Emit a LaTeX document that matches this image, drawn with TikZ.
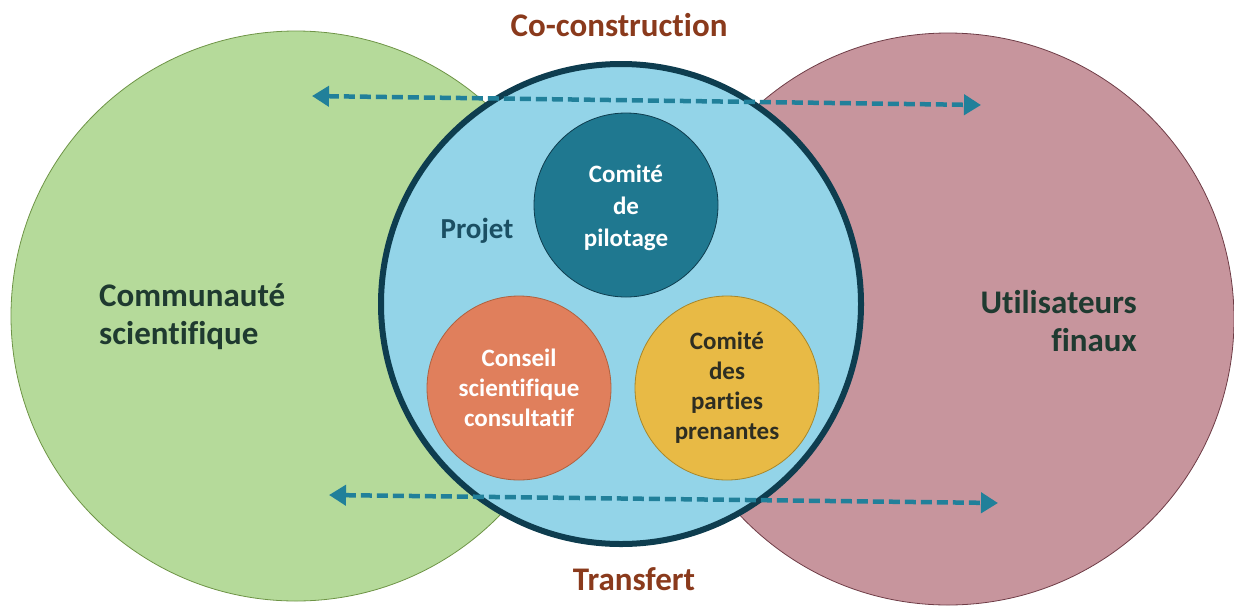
\documentclass[tikz,border=0pt]{standalone}
\usepackage{fontspec}
\setmainfont[RawFeature=-liga]{Carlito}
\usetikzlibrary{arrows.meta}
\definecolor{greenfill}{HTML}{B5DA9A}
\definecolor{greenline}{HTML}{6E9446}
\definecolor{redfill}{HTML}{C7959D}
\definecolor{redline}{HTML}{6E3C46}
\definecolor{bluefill}{HTML}{93D4E8}
\definecolor{blueline}{HTML}{0E3D4F}
\definecolor{tealfill}{HTML}{1F7890}
\definecolor{orangefill}{HTML}{E07F5C}
\definecolor{orangeline}{HTML}{B0613F}
\definecolor{yellowfill}{HTML}{E8BA45}
\definecolor{yellowline}{HTML}{A8872A}
\definecolor{arrowcol}{HTML}{21809A}
\definecolor{browntext}{HTML}{8A3A1C}
\definecolor{darktext}{HTML}{1F3A30}
\definecolor{projettext}{HTML}{1B4F63}
\definecolor{darkyellowtext}{HTML}{2E2E22}
\begin{document}
\begin{tikzpicture}[x=1pt,y=-1pt,
  bigcircle/.style={circle,inner sep=0pt},
  subcircle/.style={circle,draw,line width=0.8pt,minimum size=184pt,inner sep=0pt,align=center,
     font=\fontsize{25}{30}\selectfont\bfseries},
  biglabel/.style={font=\fontsize{33}{38}\selectfont\bfseries,text=darktext,inner sep=0pt},
  titlelabel/.style={font=\fontsize{33}{38}\selectfont\bfseries,text=browntext,inner sep=0pt},
  flow/.style={arrowcol,line width=4.5pt,dash pattern=on 11pt off 5pt,
     {Triangle[length=17pt,width=20pt]}-{Triangle[length=17pt,width=20pt]}}
]
\useasboundingbox (0,0) rectangle (1234,606);
% outer circles
\node[bigcircle,fill=greenfill,draw=greenline,line width=0.8pt,minimum size=570pt] (sci) at (296,316) {};
\node[bigcircle,fill=redfill,draw=redline,line width=0.8pt,minimum size=572pt] (users) at (948,319) {};
% project circle
\node[bigcircle,fill=bluefill,draw=blueline,line width=6pt,minimum size=480pt] (proj) at (621,304) {};
% inner circles
\node[subcircle,fill=tealfill,draw=blueline] (pilot) at (626,205) {};
\node[align=center,inner sep=0pt,text=white,font=\fontsize{25}{32}\selectfont\bfseries] (pilottext) at ([yshift=-3pt]pilot.center) {Comité\\de\\pilotage};
\node[subcircle,fill=orangefill,draw=orangeline,text=white] (conseil) at (519,388) {Conseil\\scientifique\\consultatif};
\node[subcircle,fill=yellowfill,draw=yellowline,text=darkyellowtext] (parties) at (727,388) {Comité\\des\\parties\\prenantes};
% labels
\node[font=\fontsize{29}{34}\selectfont\bfseries,text=projettext,inner sep=0pt] (projlabel) at (477,231) {Projet};
\node[biglabel,align=left,anchor=north west] (scilabel) at (99,284) {Communauté\\scientifique};
\node[biglabel,align=right,anchor=north east] (userlabel) at (1137,290) {Utilisateurs\\finaux};
\node[titlelabel] (cocon) at (619,25) {Co-construction};
\node[titlelabel] (transfert) at (634,579) {Transfert};
% arrows
\coordinate (a1) at (312,96);
\coordinate (a2) at (981,105);
\coordinate (b1) at (329,495);
\coordinate (b2) at (998,503);
\draw[flow] (a1) -- (a2);
\draw[flow] (b1) -- (b2);
\end{tikzpicture}
\end{document}
